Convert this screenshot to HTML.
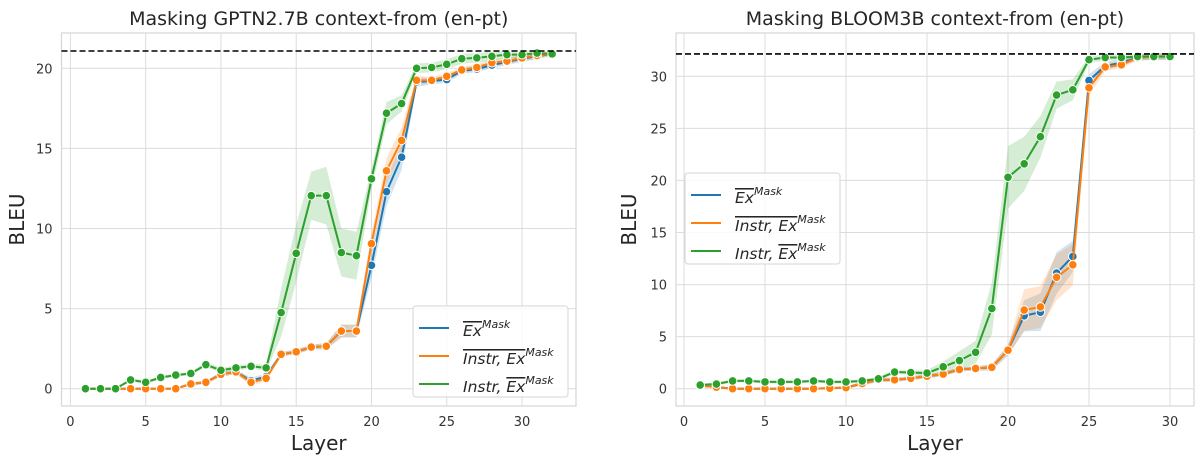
<!DOCTYPE html>
<html><head><meta charset="utf-8"><style>
body{margin:0;background:#fff;font-family:"DejaVu Sans","Liberation Sans",sans-serif}
svg{display:block;font-family:"DejaVu Sans","Liberation Sans",sans-serif}
</style></head><body>
<svg id="c" width="1196" height="463" viewBox="0 0 1196 463"></svg>
<script>
const layersL=[1,2,3,4,5,6,7,8,9,10,11,12,13,14,15,16,17,18,19,20,21,22,23,24,25,26,27,28,29,30,31,32];
const blueL=[0,0,0,0,0,0,0,0.3,0.4,0.9,1.05,0.5,0.75,2.15,2.3,2.6,2.65,3.6,3.6,7.7,12.3,14.45,19.15,19.2,19.3,19.85,19.95,20.2,20.4,20.6,20.75,20.9];
const orangeL=[0,0,0,0,0,0,0,0.3,0.4,0.9,1.05,0.4,0.65,2.15,2.3,2.6,2.65,3.6,3.6,9.05,13.6,15.5,19.25,19.25,19.5,19.9,20.05,20.35,20.45,20.65,20.8,20.9];
const greenL=[0,0,0,0.55,0.4,0.7,0.85,0.95,1.5,1.15,1.3,1.4,1.3,4.75,8.45,12.05,12.05,8.5,8.3,13.1,17.2,17.8,20,20.05,20.25,20.6,20.65,20.75,20.85,20.85,20.95,20.9];
const ciBlueL=[0,0,0,0,0,0,0,0.1,0.1,0.15,0.15,0.2,0.2,0.15,0.15,0.15,0.2,0.4,0.4,0.8,0.9,0.8,0.3,0.2,0.2,0.2,0.2,0.2,0.2,0.2,0.2,0.1];
const ciOrangeL=[0,0,0,0,0,0,0,0.1,0.1,0.15,0.15,0.2,0.2,0.15,0.15,0.15,0.2,0.4,0.4,0.6,0.8,0.8,0.3,0.2,0.2,0.2,0.2,0.2,0.2,0.2,0.2,0.1];
const ciGreenL=[0,0,0,0.1,0.1,0.1,0.1,0.1,0.15,0.15,0.15,0.15,0.2,1.5,1.8,1.5,1.8,1.5,1.5,0.6,0.7,0.5,0.3,0.3,0.3,0.3,0.3,0.3,0.2,0.2,0.2,0.1];
const refL=21.08;
const layersR=[1,2,3,4,5,6,7,8,9,10,11,12,13,14,15,16,17,18,19,20,21,22,23,24,25,26,27,28,29,30];
const blueR=[0.3,0.15,0,0,0,0,0,0,0.05,0.1,0.5,0.85,0.85,1.0,1.2,1.4,1.85,1.95,2.05,3.7,7.0,7.35,11.1,12.7,29.6,31.0,31.3,31.8,31.9,31.9];
const orangeR=[0.3,0.15,0,0,0,0,0,0,0.05,0.1,0.5,0.85,0.85,1.0,1.2,1.4,1.85,1.95,2.05,3.7,7.55,7.85,10.7,11.9,28.9,30.9,31.1,31.8,31.9,31.9];
const greenR=[0.35,0.45,0.75,0.75,0.65,0.65,0.65,0.75,0.65,0.65,0.75,0.95,1.6,1.55,1.5,2.1,2.7,3.5,7.7,20.3,21.6,24.2,28.2,28.7,31.6,31.8,31.8,31.9,31.9,31.9];
const ciBlueR=[0.1,0.1,0.1,0.1,0.1,0.1,0.1,0.1,0.1,0.1,0.2,0.2,0.2,0.2,0.2,0.2,0.2,0.2,0.3,0.5,1.5,1.8,2,1.5,0.6,0.4,0.3,0.3,0.3,0.3];
const ciOrangeR=[0.1,0.1,0.1,0.1,0.1,0.1,0.1,0.1,0.1,0.1,0.2,0.2,0.2,0.2,0.2,0.2,0.2,0.2,0.3,0.5,2,2,2.2,2,0.8,0.4,0.3,0.3,0.3,0.3];
const ciGreenR=[0.15,0.15,0.15,0.15,0.15,0.15,0.15,0.15,0.15,0.15,0.15,0.2,0.2,0.2,0.3,0.5,0.9,1.1,2.5,3,2.6,2,1.3,1,0.3,0.3,0.3,0.3,0.3,0.3];
const refR=32.15;
const xTicksL=[0,5,10,15,20,25,30], yTicksL=[0,5,10,15,20];
const xTicksR=[0,5,10,15,20,25,30], yTicksR=[0,5,10,15,20,25,30];

const NS='http://www.w3.org/2000/svg';
const svg=document.getElementById('c');
function mk(tag,attrs,parent){const e=document.createElementNS(NS,tag);for(const k in attrs)e.setAttribute(k,attrs[k]);(parent||svg).appendChild(e);return e;}
const COL={blue:'#1f77b4',orange:'#ff7f0e',green:'#2ca02c'};

function panel(cfg){
  const g=mk('g',{});
  
  
  const X=v=>cfg.x0+(v-cfg.xa)*(cfg.x1-cfg.x0)/(cfg.xb-cfg.xa);
  const Y=v=>cfg.y0+(v-cfg.ya)*(cfg.y1-cfg.y0)/(cfg.yb-cfg.ya);
  mk('rect',{x:cfg.L,y:cfg.T,width:cfg.R-cfg.L,height:cfg.B-cfg.T,fill:'#fff',stroke:'#d6d6d6','stroke-width':1.2},g);
  cfg.xt.forEach(t=>{
    mk('line',{x1:X(t),x2:X(t),y1:cfg.T,y2:cfg.B,stroke:'#dcdcdc','stroke-width':1},g);
    const tx=mk('text',{x:X(t),y:cfg.B+20,'text-anchor':'middle','font-size':13,fill:'#333'},g);tx.textContent=t;
    
    
  });
  cfg.yt.forEach(t=>{
    mk('line',{x1:cfg.L,x2:cfg.R,y1:Y(t),y2:Y(t),stroke:'#dcdcdc','stroke-width':1},g);
    const tx=mk('text',{x:cfg.L-9,y:Y(t)+5,'text-anchor':'end','font-size':13,fill:'#333'},g);tx.textContent=t;
    
    
  });
  const ser=[['blue',cfg.b,cfg.cb],['orange',cfg.o,cfg.co],['green',cfg.g,cfg.cg]];
  ser.forEach(([c,vals,ci])=>{
    let up=cfg.xs.map((x,i)=>X(x)+','+Y(vals[i]+ci[i]));
    let dn=cfg.xs.map((x,i)=>X(x)+','+Y(vals[i]-ci[i])).reverse();
    const p=mk('polygon',{points:up.concat(dn).join(' '),fill:COL[c],'fill-opacity':0.2,stroke:'none'},g);
    
    
  });
  ser.forEach(([c,vals])=>{
    const l=mk('polyline',{points:cfg.xs.map((x,i)=>X(x)+','+Y(vals[i])).join(' '),fill:'none',stroke:COL[c],'stroke-width':2},g);
    
    
    cfg.xs.forEach((x,i)=>{
      const m=mk('circle',{cx:X(x),cy:Y(vals[i]),r:4.3,fill:COL[c],stroke:'#fff','stroke-width':1},g);
      
      
    });
  });
  const rl=mk('line',{x1:cfg.L,x2:cfg.R,y1:Y(cfg.ref),y2:Y(cfg.ref),stroke:'#000','stroke-width':1.6,'stroke-dasharray':'6,3'},g);
  
  
  const t=mk('text',{x:(cfg.L+cfg.R)/2,y:25,'text-anchor':'middle','font-size':19,fill:'#262626'},g);t.textContent=cfg.title;
  
  
  const xl=mk('text',{x:(cfg.L+cfg.R)/2,y:450,'text-anchor':'middle','font-size':20,fill:'#262626'},g);xl.textContent='Layer';
  
  
  const yl=mk('text',{x:0,y:0,'text-anchor':'middle','font-size':20,fill:'#262626'},g);
  yl.setAttribute('transform','translate('+cfg.yLabX+','+((cfg.T+cfg.B)/2)+') rotate(-90)');
  yl.textContent='BLEU';
  
  
  const lg=mk('g',{},g);
  
  
  const lx=cfg.lx,ly=cfg.ly;
  mk('rect',{x:lx,y:ly,width:155,height:91,rx:3,fill:'#fff','fill-opacity':0.85,stroke:'#d6d6d6'},lg);
  ['blue','orange','green'].forEach((c,i)=>{
    const yy=ly+22+i*28;
    const e=mk('g',{},lg);
    
    
    mk('line',{x1:lx+6,x2:lx+36,y1:yy,y2:yy,stroke:COL[c],'stroke-width':2},e);
    const tx=mk('text',{x:lx+50,y:yy+8,'font-size':15.5,'font-style':'italic',fill:'#262626'},e);
    if(i===0){tx.innerHTML='<tspan text-decoration="overline">Ex</tspan><tspan dy="-8" font-size="11">Mask</tspan>';}
    else if(i===1){tx.innerHTML='<tspan text-decoration="overline">Instr, Ex</tspan><tspan dy="-8" font-size="11">Mask</tspan>';}
    else{tx.innerHTML='Instr, <tspan text-decoration="overline">Ex</tspan><tspan dy="-8" font-size="11">Mask</tspan>';}
  });
}
panel({name:'left-panel-gptn',L:61.5,R:576,T:33,B:406,x0:70.4,x1:522,xa:0,xb:30,y0:388.7,y1:68.3,ya:0,yb:20,
  xs:layersL,b:blueL,o:orangeL,g:greenL,cb:ciBlueL,co:ciOrangeL,cg:ciGreenL,ref:refL,xt:xTicksL,yt:yTicksL,
  title:'Masking GPTN2.7B context-from (en-pt)',yLabX:24,lx:413,ly:306});
panel({name:'right-panel-bloom',L:676,R:1194,T:33,B:406,x0:684,x1:1170,xa:0,xb:30,y0:388.7,y1:76.3,ya:0,yb:30,
  xs:layersR,b:blueR,o:orangeR,g:greenR,cb:ciBlueR,co:ciOrangeR,cg:ciGreenR,ref:refR,xt:xTicksR,yt:yTicksR,
  title:'Masking BLOOM3B context-from (en-pt)',yLabX:636,lx:685,ly:173});
</script>
</body></html>
